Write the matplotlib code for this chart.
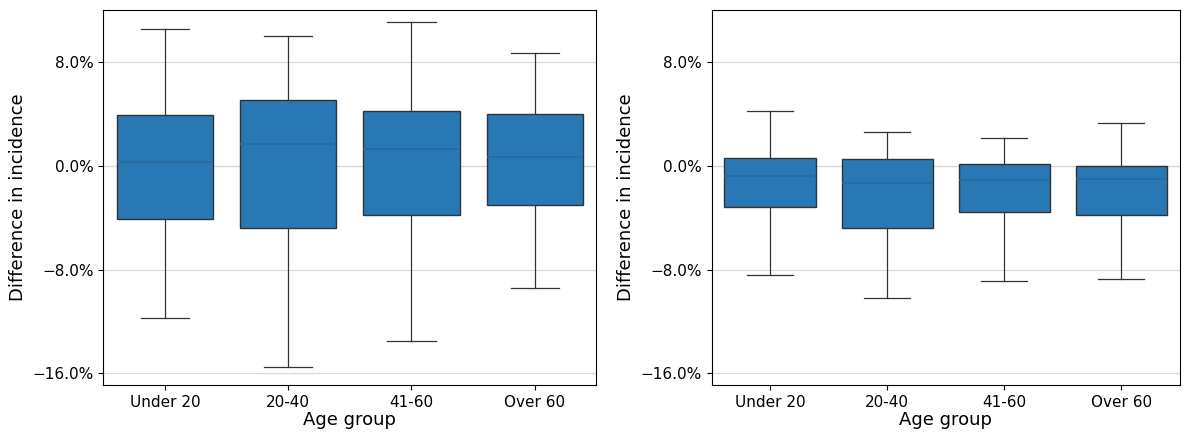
import matplotlib.pyplot as plt
from matplotlib.ticker import FuncFormatter

groups = ["Under 20", "20-40", "41-60", "Over 60"]

# left panel: box summaries (percent)
left_whislo = [-11.7, -15.5, -13.5, -9.4]
left_q1 = [-4.1, -4.8, -3.8, -3.0]
left_med = [0.3, 1.7, 1.3, 0.7]
left_q3 = [3.9, 5.1, 4.2, 4.0]
left_whishi = [10.5, 10.0, 11.1, 8.7]

# right panel
right_whislo = [-8.4, -10.2, -8.9, -8.7]
right_q1 = [-3.2, -4.8, -3.6, -3.8]
right_med = [-0.8, -1.3, -1.1, -1.0]
right_q3 = [0.6, 0.5, 0.1, 0.0]
right_whishi = [4.2, 2.6, 2.1, 3.3]

yticks = [-16, -8, 0, 8]

fig = plt.figure(figsize=(11.88, 4.36), dpi=100)
ax1 = fig.add_axes([0.087, 0.117, 0.415, 0.86])
ax2 = fig.add_axes([0.599, 0.117, 0.394, 0.86])


def draw(ax, lo, q1, med, q3, hi):
    stats = []
    for i, g in enumerate(groups):
        stats.append({"label": g, "whislo": lo[i], "q1": q1[i], "med": med[i],
                      "q3": q3[i], "whishi": hi[i], "fliers": []})
    ax.bxp(stats, positions=range(len(groups)), widths=0.78, patch_artist=True,
           boxprops=dict(facecolor="#2878b5", edgecolor="#333333", linewidth=1),
           medianprops=dict(color="#2a6b9c", linewidth=1.2),
           whiskerprops=dict(color="#333333", linewidth=0.9),
           capprops=dict(color="#333333", linewidth=0.9),
           capwidths=0.39)
    ax.set_axisbelow(True)
    ax.yaxis.grid(True, color="#d9d9d9", linewidth=0.9)
    ax.axhline(0, color="#cccccc", linestyle="--", linewidth=0.9, zorder=0)
    ax.set_xlim(-0.5, len(groups) - 0.5)
    ax.set_ylim(-16.9, 12.0)
    ax.set_yticks(yticks)
    ax.yaxis.set_major_formatter(FuncFormatter(lambda v, p: f"{v:.1f}%".replace("-", "\u2212")))
    ax.set_xticks(range(len(groups)))
    ax.set_xticklabels(groups)
    ax.tick_params(labelsize=11)
    ax.set_xlabel("Age group", fontsize=13, labelpad=1)
    ax.set_ylabel("Difference in incidence", fontsize=13)


draw(ax1, left_whislo, left_q1, left_med, left_q3, left_whishi)
draw(ax2, right_whislo, right_q1, right_med, right_q3, right_whishi)

fig.savefig("out.png", dpi=100)
